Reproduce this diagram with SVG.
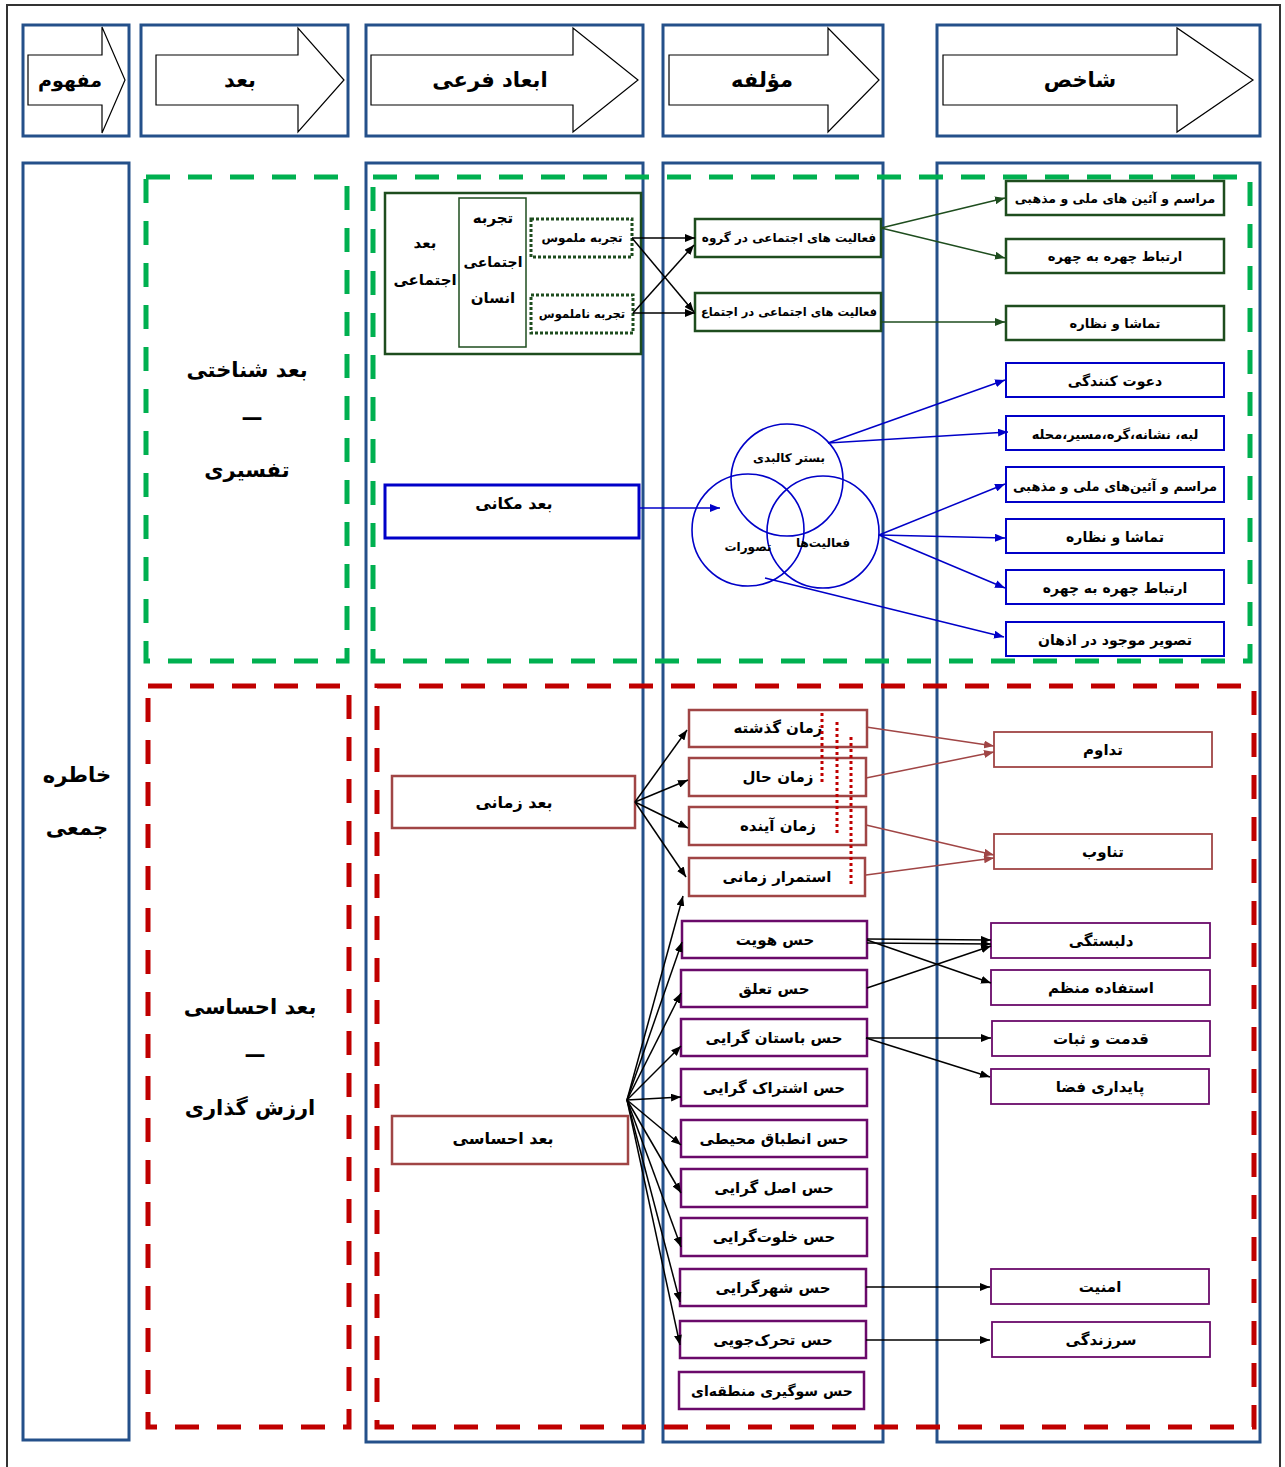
<svg xmlns="http://www.w3.org/2000/svg" width="1285" height="1467" viewBox="0 0 1285 1467">
<style>
text{font-family:"DejaVu Sans","Noto Sans",sans-serif;font-weight:bold;text-anchor:middle;dominant-baseline:central;fill:#000}
.hdr{font-size:21px}
.big{font-size:21px}
.t16{font-size:16px}
.t15{font-size:15px}
.t14{font-size:14px}
.t13{font-size:13px}
.t125{font-size:12.5px}
.t12{font-size:12px}
.t11{font-size:11.5px}
.col{fill:#fff;stroke:#24508A;stroke-width:3}
.harrow{fill:#fff;stroke:#000;stroke-width:1.2}
.gdash{fill:none;stroke:#00B050;stroke-width:5;stroke-dasharray:24 18}
.rdash{fill:none;stroke:#C00000;stroke-width:5;stroke-dasharray:24 18}
.dg{fill:#fff;stroke:#1E4D1E;stroke-width:2.5}
.dgdot{fill:#fff;stroke:#1E4D1E;stroke-width:3;stroke-dasharray:3 2}
.bl{fill:#fff;stroke:#0000C8;stroke-width:2}
.br{fill:#fff;stroke:#A04545;stroke-width:2.5}
.pu{fill:#fff;stroke:#6A0A6A;stroke-width:2.5}
.circ{fill:none;stroke:#0000C8;stroke-width:1.6}
.lk{stroke:#000;stroke-width:1.5;fill:none;marker-end:url(#ak)}
.lg{stroke:#1E4D1E;stroke-width:1.5;fill:none;marker-end:url(#ag)}
.lb{stroke:#0000C8;stroke-width:1.5;fill:none;marker-end:url(#ab)}
.lr{stroke:#A04545;stroke-width:1.5;fill:none;marker-end:url(#ar)}
.rdot{stroke:#C00000;stroke-width:3;stroke-dasharray:3 3;fill:none}
</style>
<defs>
<marker id="ak" markerWidth="10" markerHeight="8" refX="10" refY="4" orient="auto" markerUnits="userSpaceOnUse"><path d="M0,0 L10,4 L0,8 z" fill="#000"/></marker>
<marker id="ag" markerWidth="10" markerHeight="8" refX="10" refY="4" orient="auto" markerUnits="userSpaceOnUse"><path d="M0,0 L10,4 L0,8 z" fill="#1E4D1E"/></marker>
<marker id="ab" markerWidth="10" markerHeight="8" refX="10" refY="4" orient="auto" markerUnits="userSpaceOnUse"><path d="M0,0 L10,4 L0,8 z" fill="#0000C8"/></marker>
<marker id="ar" markerWidth="10" markerHeight="8" refX="10" refY="4" orient="auto" markerUnits="userSpaceOnUse"><path d="M0,0 L10,4 L0,8 z" fill="#A04545"/></marker>
</defs>
<rect x="0" y="0" width="1285" height="1467" fill="#fff"/>
<rect x="7" y="5" width="1273" height="1475" fill="none" stroke="#333" stroke-width="2"/>

<!-- header -->
<g id="h-mafhoom"><rect class="col" x="23" y="25" width="106" height="111"/><polygon class="harrow" points="28,55 102,55 102,27 125,80 102,133 102,105 28,105"/><text x="70" y="80" style="font-size:19px">مفهوم</text></g>
<g id="h-bod"><rect class="col" x="141" y="25" width="207" height="111"/><polygon class="harrow" points="156,55 298,55 298,28 344,80 298,132 298,105 156,105"/><text class="hdr" x="240" y="80">بعد</text></g>
<g id="h-abad"><rect class="col" x="366" y="25" width="277" height="111"/><polygon class="harrow" points="371,55 573,55 573,28 638,80 573,132 573,105 371,105"/><text class="hdr" x="490" y="80">ابعاد فرعی</text></g>
<g id="h-moalefe"><rect class="col" x="663" y="25" width="220" height="111"/><polygon class="harrow" points="669,55 828,55 828,28 879,80 828,132 828,105 669,105"/><text class="hdr" x="762" y="80">مؤلفه</text></g>
<g id="h-shakhes"><rect class="col" x="937" y="25" width="323" height="111"/><polygon class="harrow" points="943,55 1177,55 1177,28 1253,80 1177,132 1177,105 943,105"/><text class="hdr" x="1080" y="80">شاخص</text></g>

<!-- columns -->
<g id="col-concept"><rect class="col" x="23" y="163" width="106" height="1277"/><text class="big" x="77" y="775">خاطره</text><text class="big" x="77" y="828">جمعی</text></g>
<rect class="col" x="366" y="163" width="277" height="1279"/>
<rect class="col" x="663" y="163" width="220" height="1279"/>
<rect class="col" x="937" y="163" width="323" height="1279"/>

<!-- dashed groups -->
<g id="dim-cognitive"><rect class="gdash" x="146" y="177" width="201" height="484"/><text class="big" x="247" y="370">بعد شناختی</text><text class="big" x="252" y="418">—</text><text class="big" x="247" y="470">تفسیری</text></g>
<rect class="gdash" x="373" y="177" width="877" height="484"/>
<g id="dim-emotional"><rect class="rdash" x="148" y="686" width="201" height="741"/><text class="big" x="250" y="1007">بعد احساسی</text><text class="big" x="255" y="1055">—</text><text class="big" x="250" y="1108">ارزش گذاری</text></g>
<rect class="rdash" x="377" y="686" width="877" height="741"/>

<!-- social dimension -->
<g id="n-social"><rect class="dg" x="385" y="193" width="256" height="161"/><text class="t15" x="425" y="243">بعد</text><text class="t15" x="425" y="280">اجتماعی</text></g>
<g id="n-human"><rect x="459" y="198" width="67" height="149" fill="#fff" stroke="#1E4D1E" stroke-width="1.5"/><text class="t15" x="493" y="218">تجربه</text><text class="t14" x="493" y="262">اجتماعی</text><text class="t15" x="493" y="298">انسان</text></g>
<g id="n-tangible"><rect class="dgdot" x="531" y="219" width="101" height="38"/><text class="t12" x="582" y="238">تجربه ملموس</text></g>
<g id="n-intangible"><rect class="dgdot" x="531" y="295" width="102" height="38"/><text class="t11" x="582" y="314">تجربه ناملموس</text></g>
<g id="n-act-group"><rect class="dg" x="695" y="219" width="186" height="38"/><text class="t12" x="789" y="238">فعالیت های اجتماعی در گروه</text></g>
<g id="n-act-society"><rect class="dg" x="695" y="293" width="186" height="38"/><text class="t11" x="789" y="312">فعالیت های اجتماعی در اجتماع</text></g>
<g id="s1"><rect class="dg" x="1006" y="181" width="218" height="34"/><text class="t125" x="1115" y="198">مراسم و آئین های ملی و مذهبی</text></g>
<g id="s2"><rect class="dg" x="1006" y="239" width="218" height="34"/><text class="t13" x="1115" y="256">ارتباط چهره به چهره</text></g>
<g id="s3"><rect class="dg" x="1006" y="306" width="218" height="34"/><text class="t13" x="1115" y="323">تماشا و نظاره</text></g>

<!-- spatial dimension -->
<g id="n-spatial"><rect x="385" y="485" width="254" height="53" fill="#fff" stroke="#0000C8" stroke-width="3"/><text class="t16" x="514" y="503">بعد مکانی</text></g>
<g id="n-circles">
<circle class="circ" cx="787" cy="480" r="56"/>
<circle class="circ" cx="748" cy="530" r="56"/>
<circle class="circ" cx="823" cy="532" r="56"/>
<text class="t12" x="789" y="458">بستر کالبدی</text>
<text class="t12" x="748" y="547">تصورات</text>
<text class="t12" x="823" y="543">فعالیت‌ها</text>
</g>
<g id="p1"><rect class="bl" x="1006" y="363" width="218" height="34"/><text class="t14" x="1115" y="381">دعوت کنندگی</text></g>
<g id="p2"><rect class="bl" x="1006" y="416" width="218" height="34"/><text class="t13" x="1115" y="434">لبه، نشانه،گره،مسیر،محله</text></g>
<g id="p3"><rect class="bl" x="1006" y="467" width="218" height="35"/><text class="t13" x="1115" y="486">مراسم و آئین‌های  ملی و مذهبی</text></g>
<g id="p4"><rect class="bl" x="1006" y="519" width="218" height="34"/><text class="t14" x="1115" y="537">تماشا و نظاره</text></g>
<g id="p5"><rect class="bl" x="1006" y="570" width="218" height="34"/><text class="t14" x="1115" y="588">ارتباط چهره به چهره</text></g>
<g id="p6"><rect class="bl" x="1006" y="622" width="218" height="34"/><text class="t14" x="1115" y="640">تصویر موجود در اذهان</text></g>

<!-- temporal dimension -->
<g id="n-temporal"><rect class="br" x="392" y="776" width="243" height="52"/><text class="t16" x="514" y="802">بعد زمانی</text></g>
<g id="t1"><rect class="br" x="689" y="710" width="178" height="37"/><text class="t15" x="778" y="728">زمان  گذشته</text></g>
<g id="t2"><rect class="br" x="689" y="758" width="177" height="38"/><text class="t15" x="778" y="777">زمان حال</text></g>
<g id="t3"><rect class="br" x="689" y="807" width="177" height="38"/><text class="t15" x="778" y="826">زمان آینده</text></g>
<g id="t4"><rect class="br" x="689" y="858" width="176" height="38"/><text class="t15" x="777" y="877">استمرار زمانی</text></g>
<g id="dots"><line class="rdot" x1="822" y1="713" x2="822" y2="782"/><line class="rdot" x1="837" y1="722" x2="837" y2="833"/><line class="rdot" x1="851" y1="737" x2="851" y2="886"/></g>
<g id="k1"><rect x="994" y="732" width="218" height="35" fill="#fff" stroke="#A04545" stroke-width="1.8"/><text class="t15" x="1103" y="750">تداوم</text></g>
<g id="k2"><rect x="994" y="834" width="218" height="35" fill="#fff" stroke="#A04545" stroke-width="1.8"/><text class="t15" x="1103" y="852">تناوب</text></g>

<!-- emotional dimension -->
<g id="n-emotional"><rect class="br" x="392" y="1116" width="236" height="48"/><text class="t16" x="503" y="1138">بعد احساسی</text></g>
<g id="e1"><rect class="pu" x="682" y="921" width="185" height="37"/><text class="t15" x="775" y="940">حس هویت</text></g>
<g id="e2"><rect class="pu" x="681" y="970" width="186" height="37"/><text class="t15" x="774" y="989">حس تعلق</text></g>
<g id="e3"><rect class="pu" x="681" y="1019" width="186" height="37"/><text class="t15" x="774" y="1038">حس باستان گرایی</text></g>
<g id="e4"><rect class="pu" x="681" y="1069" width="186" height="37"/><text class="t15" x="774" y="1088">حس اشتراک گرایی</text></g>
<g id="e5"><rect class="pu" x="681" y="1120" width="186" height="37"/><text class="t15" x="774" y="1139">حس انطباق محیطی</text></g>
<g id="e6"><rect class="pu" x="681" y="1169" width="186" height="38"/><text class="t15" x="774" y="1188">حس اصل گرایی</text></g>
<g id="e7"><rect class="pu" x="681" y="1218" width="186" height="38"/><text class="t15" x="774" y="1237">حس خلوت‌گرایی</text></g>
<g id="e8"><rect class="pu" x="680" y="1269" width="186" height="37"/><text class="t15" x="773" y="1288">حس شهرگرایی</text></g>
<g id="e9"><rect class="pu" x="680" y="1321" width="186" height="37"/><text class="t15" x="773" y="1340">حس تحرک‌جویی</text></g>
<g id="e10"><rect class="pu" x="679" y="1372" width="185" height="37"/><text class="t14" x="772" y="1391">حس سوگیری منطقه‌ای</text></g>
<g id="f1"><rect x="991" y="923" width="219" height="35" fill="#fff" stroke="#6A0A6A" stroke-width="1.8"/><text class="t15" x="1101" y="941">دلبستگی</text></g>
<g id="f2"><rect x="991" y="970" width="219" height="35" fill="#fff" stroke="#6A0A6A" stroke-width="1.8"/><text class="t15" x="1101" y="988">استفاده منظم</text></g>
<g id="f3"><rect x="992" y="1021" width="218" height="35" fill="#fff" stroke="#6A0A6A" stroke-width="1.8"/><text class="t15" x="1101" y="1039">قدمت و ثبات</text></g>
<g id="f4"><rect x="991" y="1069" width="218" height="35" fill="#fff" stroke="#6A0A6A" stroke-width="1.8"/><text class="t15" x="1100" y="1087">پایداری فضا</text></g>
<g id="f5"><rect x="991" y="1269" width="218" height="35" fill="#fff" stroke="#6A0A6A" stroke-width="1.8"/><text class="t15" x="1100" y="1287">امنیت</text></g>
<g id="f6"><rect x="992" y="1322" width="218" height="35" fill="#fff" stroke="#6A0A6A" stroke-width="1.8"/><text class="t15" x="1101" y="1340">سرزندگی</text></g>

<!-- connectors -->
<g id="connectors">
<line class="lk" x1="632" y1="238" x2="695" y2="238"/>
<line class="lk" x1="632" y1="238" x2="694" y2="312"/>
<line class="lk" x1="633" y1="313" x2="695" y2="313"/>
<line class="lk" x1="633" y1="313" x2="694" y2="245"/>
<line class="lg" x1="881" y1="228" x2="1005" y2="198"/>
<line class="lg" x1="881" y1="228" x2="1005" y2="258"/>
<line class="lg" x1="881" y1="322" x2="1005" y2="322"/>
<line class="lb" x1="639" y1="508" x2="720" y2="508"/>
<line class="lb" x1="828" y1="443" x2="1005" y2="380"/>
<line class="lb" x1="828" y1="443" x2="1008" y2="432"/>
<line class="lb" x1="879" y1="535" x2="1005" y2="484"/>
<line class="lb" x1="879" y1="535" x2="1005" y2="538"/>
<line class="lb" x1="879" y1="535" x2="1005" y2="588"/>
<line class="lb" x1="765" y1="578" x2="1004" y2="637"/>
<line class="lk" x1="635" y1="802" x2="687" y2="730"/>
<line class="lk" x1="635" y1="802" x2="688" y2="780"/>
<line class="lk" x1="635" y1="802" x2="688" y2="828"/>
<line class="lk" x1="635" y1="802" x2="686" y2="877"/>
<line class="lr" x1="866" y1="727" x2="994" y2="746"/>
<line class="lr" x1="866" y1="778" x2="994" y2="752"/>
<line class="lr" x1="866" y1="825" x2="994" y2="855"/>
<line class="lr" x1="866" y1="875" x2="994" y2="858"/>
<line class="lk" x1="627" y1="1100" x2="683" y2="896"/>
<line class="lk" x1="627" y1="1100" x2="682" y2="942"/>
<line class="lk" x1="627" y1="1100" x2="681" y2="993"/>
<line class="lk" x1="627" y1="1100" x2="681" y2="1046"/>
<line class="lk" x1="627" y1="1100" x2="681" y2="1097"/>
<line class="lk" x1="627" y1="1100" x2="681" y2="1145"/>
<line class="lk" x1="627" y1="1100" x2="681" y2="1193"/>
<line class="lk" x1="627" y1="1100" x2="681" y2="1247"/>
<line class="lk" x1="627" y1="1100" x2="680" y2="1302"/>
<line class="lk" x1="627" y1="1100" x2="680" y2="1345"/>
<line class="lk" x1="867" y1="939" x2="991" y2="940"/>
<line class="lk" x1="867" y1="943" x2="991" y2="944"/>
<line class="lk" x1="867" y1="940" x2="991" y2="983"/>
<line class="lk" x1="867" y1="988" x2="991" y2="946"/>
<line class="lk" x1="866" y1="1038" x2="991" y2="1038"/>
<line class="lk" x1="866" y1="1038" x2="990" y2="1077"/>
<line class="lk" x1="866" y1="1287" x2="990" y2="1287"/>
<line class="lk" x1="866" y1="1340" x2="990" y2="1340"/>
</g>
</svg>
